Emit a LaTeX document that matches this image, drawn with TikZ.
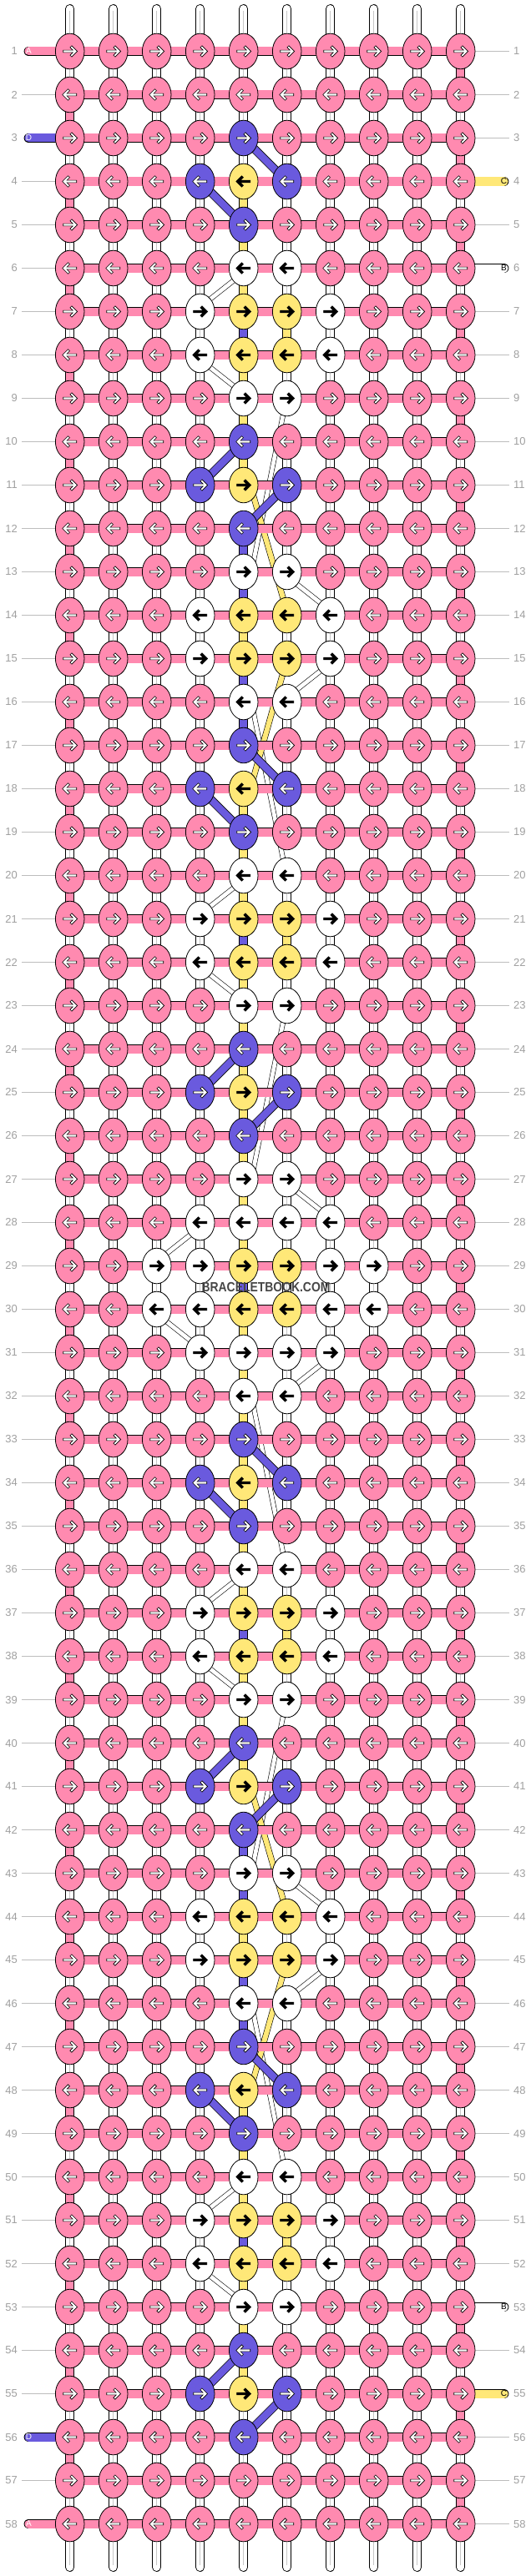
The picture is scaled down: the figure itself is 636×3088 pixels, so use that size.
\documentclass[tikz,border=0pt]{standalone}
\usepackage{fontspec}
\setmainfont{Liberation Sans}
\usetikzlibrary{shapes.geometric,calc}
\definecolor{kpink}{HTML}{FF8AB0}
\definecolor{kblue}{HTML}{6A5ADE}
\definecolor{kyellow}{HTML}{FFE878}
\definecolor{lblgray}{HTML}{A0A0A0}
\colorlet{kcP}{kpink}
\colorlet{kcB}{kblue}
\colorlet{kcY}{kyellow}
\colorlet{kcW}{white}
\colorlet{arfP}{white}
\colorlet{arfB}{white}
\colorlet{arfY}{black}
\colorlet{arfW}{black}
\pgfdeclarelayer{strands}
\pgfdeclarelayer{bars}
\pgfsetlayers{strands,bars,main}
% knot colours of one row, left to right
\def\rowN{P,P,P,P,P,P,P,P,P,P}
\def\rowS{P,P,P,P,B,P,P,P,P,P}
\def\rowX{P,P,P,B,Y,B,P,P,P,P}
\def\rowH{P,P,P,P,W,W,P,P,P,P}
\def\rowQ{P,P,P,W,Y,Y,W,P,P,P}
\def\rowM{P,P,P,W,W,W,W,P,P,P}
\def\rowZ{P,P,W,W,Y,Y,W,W,P,P}
\tikzset{
knot/.style = {ellipse, draw=black, line width=0.8pt, minimum width=34.6pt, minimum height=42.6pt, inner sep=0pt},
arr/.pic = {\path[pic actions] (-8,1.4) -- (3.5,1.4) -- (0.2,4.7) -- (2.2,6.7) -- (8.9,0) -- (2.2,-6.7) -- (0.2,-4.7) -- (3.5,-1.4) -- (-8,-1.4) -- cycle;},
hbar/.style = {draw=black, line width=0.9pt, double=kpink, double distance=10pt},
vbar/.style = {draw=black, line width=0.9pt, double=#1, double distance=9pt},
estrand/.style = {draw=black, line width=0.9pt, double=#1, double distance=10pt, line cap=round},
midline/.style = {draw=black!22, line width=0.7pt},
bluediag/.style = {draw=black, line width=0.8pt, double=kblue, double distance=8.5pt},
hidden/.style = {draw=black, line width=0.6pt, double=#1, double distance=4.8pt, shorten <=-3pt, shorten >=-3pt},
rlab/.style = {text=lblgray, font=\fontsize{13}{13}\selectfont, inner sep=0pt},
gline/.style = {draw=lblgray!70, line width=0.8pt},
endlab/.style = {font=\fontsize{10}{10}\selectfont, inner sep=0pt},
wmark/.style = {font=\bfseries\fontsize{16}{16}\selectfont, text=black!72, inner sep=0pt},
}
\begin{document}
\begin{tikzpicture}[x=1pt, y=-1pt]
\useasboundingbox (0,0) rectangle (636,3088);
\begin{pgfonlayer}{strands}
\fill[white] (0,0) rectangle (636,3088);
\end{pgfonlayer}

% knots
\foreach \kr/\rt in {1/N,2/N,3/S,4/X,5/S,6/H,7/Q,8/Q,9/H,10/S,11/X,12/S,13/H,14/Q,15/Q,16/H,17/S,18/X,19/S,20/H,21/Q,22/Q,23/H,24/S,25/X,26/S,27/H,28/M,29/Z,30/Z,31/M,32/H,33/S,34/X,35/S,36/H,37/Q,38/Q,39/H,40/S,41/X,42/S,43/H,44/Q,45/Q,46/H,47/S,48/X,49/S,50/H,51/Q,52/Q,53/H,54/S,55/X,56/S,57/N,58/N} {
  \pgfmathsetmacro{\yy}{61.5+52*(\kr-1)}
  \pgfmathsetmacro{\dir}{isodd(\kr) ? 1 : -1}
  \expandafter\let\expandafter\cols\csname row\rt\endcsname
  \foreach \col [count=\kc] in \cols {
    \node[knot, fill=kc\col] (k-\kr-\kc) at ({83.7+52*(\kc-1)},\yy) {};
    \pic[fill=arf\col, draw=black, line width=0.6pt, xscale=\dir] at (k-\kr-\kc) {arr};
  }
  \node[rlab, anchor=east] (ll-\kr) at (21,\yy) {\kr};
  \node[rlab, anchor=west] (rl-\kr) at (615,\yy) {\kr};
}

% gaps with no straight bar
\foreach \gp/\kc in {9/6,13/6,15/6,19/6,23/6,35/6,39/6,43/6,45/6,49/6,11/5,17/5,41/5,47/5}
  {\expandafter\gdef\csname skip-\gp-\kc\endcsname{}}
\foreach \kr in {1,3,56,58} {\expandafter\gdef\csname lend-\kr\endcsname{}}
\foreach \kr in {4,6,53,55} {\expandafter\gdef\csname rend-\kr\endcsname{}}

\begin{pgfonlayer}{bars}
% rows
\foreach \kr in {1,...,58} {
  \foreach \kc in {1,...,9} {
    \pgfmathtruncatemacro{\kn}{\kc+1}
    \draw[hbar] (k-\kr-\kc.center) -- (k-\kr-\kn.center);
  }
  \ifcsname lend-\kr\endcsname\else
    \draw[gline] ($(ll-\kr.east)+(5,0)$) -- (k-\kr-1.west);
  \fi
  \ifcsname rend-\kr\endcsname\else
    \draw[gline] (k-\kr-10.east) -- ($(rl-\kr.west)+(-5,0)$);
  \fi
}
% base strands between rows
\foreach \gp in {1,...,57} {
  \pgfmathtruncatemacro{\gn}{\gp+1}
  \foreach \kc in {1,...,10} {
    \ifcsname skip-\gp-\kc\endcsname\else
      \draw[vbar=white] (k-\gp-\kc.center) -- (k-\gn-\kc.center);
      \draw[midline] (k-\gp-\kc.center) -- (k-\gn-\kc.center);
    \fi
  }
}
\foreach \gp in {2,4,...,56} {
  \pgfmathtruncatemacro{\gn}{\gp+1}
  \draw[vbar=kpink] (k-\gp-1.center) -- (k-\gn-1.center);
}
\foreach \gp in {1,3,...,57} {
  \pgfmathtruncatemacro{\gn}{\gp+1}
  \draw[vbar=kpink] (k-\gp-10.center) -- (k-\gn-10.center);
}
\foreach \gp in {4,5,6,8,9,10,14,18,19,20,22,23,24,25,26,27,28,30,31,32,33,34,35,36,38,39,40,44,48,49,50,52,53,54} {
  \pgfmathtruncatemacro{\gn}{\gp+1}
  \draw[vbar=kyellow] (k-\gp-5.center) -- (k-\gn-5.center);
}
\foreach \gp in {7,12,13,15,16,21,29,37,42,43,45,46,51} {
  \pgfmathtruncatemacro{\gn}{\gp+1}
  \draw[vbar=kblue] (k-\gp-5.center) -- (k-\gn-5.center);
}
\foreach \gp in {7,21,37,51} {
  \pgfmathtruncatemacro{\gn}{\gp+1}
  \draw[vbar=kyellow] (k-\gp-6.center) -- (k-\gn-6.center);
}
% blue crossings
\foreach \kr/\ca/\cb in {3/5/6,4/4/5,10/5/4,11/6/5,17/5/6,18/4/5,24/5/4,25/6/5,33/5/6,34/4/5,40/5/4,41/6/5,47/5/6,48/4/5,54/5/4,55/6/5} {
  \pgfmathtruncatemacro{\rn}{\kr+1}
  \draw[bluediag] (k-\kr-\ca.center) -- (k-\rn-\cb.center);
}
% loose ends
\foreach \kc in {1,...,10} {
  \coordinate (top-\kc) at ({83.7+52*(\kc-1)},10.5);
  \coordinate (bot-\kc) at ({83.7+52*(\kc-1)},3077.5);
  \draw[vbar=white, line cap=round] (top-\kc) -- (k-1-\kc.center);
  \draw[midline] ($(top-\kc)+(0,3)$) -- (k-1-\kc.center);
  \draw[vbar=white, line cap=round] (bot-\kc) -- (k-58-\kc.center);
  \draw[midline] ($(bot-\kc)+(0,-3)$) -- (k-58-\kc.center);
}
\coordinate (eA1) at (34.5,61.5);
\coordinate (eD3) at (34.5,165.5);
\coordinate (eC4) at (603.5,217.5);
\coordinate (eB6) at (603.5,321.5);
\coordinate (eB53) at (603.5,2765.5);
\coordinate (eC55) at (603.5,2869.5);
\coordinate (eD56) at (34.5,2921.5);
\coordinate (eA58) at (34.5,3025.5);
\draw[estrand=kpink] (eA1) -- (k-1-1.center);
\draw[estrand=kblue] (eD3) -- (k-3-1.center);
\draw[estrand=kyellow] (eC4) -- (k-4-10.center);
\draw[estrand=white] (eB6) -- (k-6-10.center);
\draw[estrand=white] (eB53) -- (k-53-10.center);
\draw[estrand=kyellow] (eC55) -- (k-55-10.center);
\draw[estrand=kblue] (eD56) -- (k-56-1.center);
\draw[estrand=kpink] (eA58) -- (k-58-1.center);
\end{pgfonlayer}

\begin{pgfonlayer}{strands}
% hidden white strands, one row
\foreach \kr/\ca/\cb in {6/5/4,8/4/5,13/6/7,15/7/6,20/5/4,22/4/5,27/6/7,28/4/3,30/3/4,31/7/6,36/5/4,38/4/5,43/6/7,45/7/6,50/5/4,52/4/5} {
  \pgfmathtruncatemacro{\rn}{\kr+1}
  \ifnum\cb<\ca \def\aa{south west}\def\ab{north east}\else \def\aa{south east}\def\ab{north west}\fi
  \draw[hidden=white] (k-\kr-\ca.\aa) -- (k-\rn-\cb.\ab);
}
% hidden white strands, four rows
\foreach \ra/\rb in {9/13,23/27,39/43}
  \draw[hidden=white] ($(k-\ra-6.south)+(-5,0)$) -- (k-\rb-5.north east);
\foreach \ra/\rb in {16/20,32/36,46/50}
  \draw[hidden=white] (k-\ra-5.south east) -- ($(k-\rb-6.north)+(-5,0)$);
% hidden yellow strands
\foreach \ra/\rb in {11/14,41/44}
  \draw[hidden=kyellow, double distance=6pt] (k-\ra-5.south east) -- ($(k-\rb-6.north)+(-5,0)$);
\foreach \ra/\rb in {15/18,45/48}
  \draw[hidden=kyellow, double distance=6pt] ($(k-\ra-6.south)+(-6,0)$) -- (k-\rb-5.north east);
\end{pgfonlayer}

\node[endlab, text=white] (lA1) at (eA1) {A};
\node[endlab, text=white] (lD3) at (eD3) {D};
\node[endlab, text=black] (lC4) at (eC4) {C};
\node[endlab, text=black] (lB6) at (eB6) {B};
\node[endlab, text=black] (lB53) at (eB53) {B};
\node[endlab, text=black] (lC55) at (eC55) {C};
\node[endlab, text=white] (lD56) at (eD56) {D};
\node[endlab, text=white] (lA58) at (eA58) {A};

\node[wmark] (wm) at (318.5,1543) {\scalebox{0.87}[1]{BRACELETBOOK.COM}};
\end{tikzpicture}
\end{document}
